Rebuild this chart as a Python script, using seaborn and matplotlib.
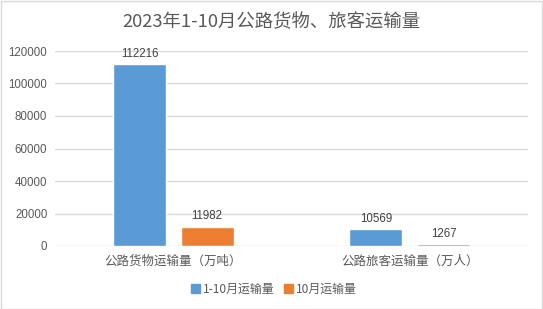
import matplotlib
matplotlib.use("Agg")
import matplotlib.pyplot as plt
import seaborn as sns
import pandas as pd
from matplotlib.patches import Rectangle

categories = ["公路货物运输量（万吨）", "公路旅客运输量（万人）"]
series_names = ["1-10月运输量", "10月运输量"]
values_1_10 = [112216, 10569]
values_10 = [11982, 1267]
yticks = [0, 20000, 40000, 60000, 80000, 100000, 120000]
title = "2023年1-10月公路货物、旅客运输量"
colors = ["#5B9BD5", "#ED7D31"]

df = pd.DataFrame({
    "cat": categories * 2,
    "series": [series_names[0]] * 2 + [series_names[1]] * 2,
    "val": values_1_10 + values_10,
})

sns.set_theme(style="white")
plt.rcParams["font.family"] = ["Noto Sans CJK SC", "DejaVu Sans"]

W, H = 543, 309
fig = plt.figure(figsize=(W / 100, H / 100), dpi=100)
ax = fig.add_axes([55 / W, (H - 246) / H, (528 - 55) / W, (246 - 51) / H])

sns.barplot(data=df, x="cat", y="val", hue="series", palette=colors,
            width=0.572, gap=0.217, ax=ax, legend=False, saturation=1)

ax.set_ylim(0, 120000)
ax.set_xlim(-0.5, 1.5)
ax.set_yticks(yticks)
ax.set_yticklabels([str(t) for t in yticks], color="#595959", fontsize=8.3,
                   family=["Liberation Sans", "Noto Sans CJK SC"])
ax.tick_params(axis="y", length=0, pad=5.5)
ax.tick_params(axis="x", length=0, pad=6, labelsize=9, labelcolor="#595959")
ax.set_xlabel("")
ax.set_ylabel("")
for y in yticks:
    ax.axhline(y, color="#D9D9D9", lw=1, zorder=0)
for s in ax.spines.values():
    s.set_visible(False)

for cont in ax.containers:
    for bar in cont:
        h = bar.get_height()
        ax.text(bar.get_x() + bar.get_width() / 2, h + 2500, f"{int(h)}",
                ha="center", va="bottom", fontsize=8.3, color="#404040",
                family=["Liberation Sans", "Noto Sans CJK SC"])

fig.text(0.5, (H - 22) / H, title, ha="center", va="center", fontsize=13.2, color="#595959")

# legend
handles = [Rectangle((0, 0), 1, 1, color=c) for c in colors]
fig.legend(handles, series_names, loc="center", bbox_to_anchor=(0.505, (H - 289) / H),
           ncol=2, frameon=False, fontsize=8.6, labelcolor="#595959",
           handlelength=0.7, handleheight=0.7, handletextpad=0.3, columnspacing=0.8)

# outer border
fig.patches.append(Rectangle((0.5 / W, 0.5 / H), 1 - 1.5 / W, 1 - 1.5 / H,
                             transform=fig.transFigure, fill=False,
                             edgecolor="#D9D9D9", lw=1))

fig.savefig("out.png", dpi=100)
